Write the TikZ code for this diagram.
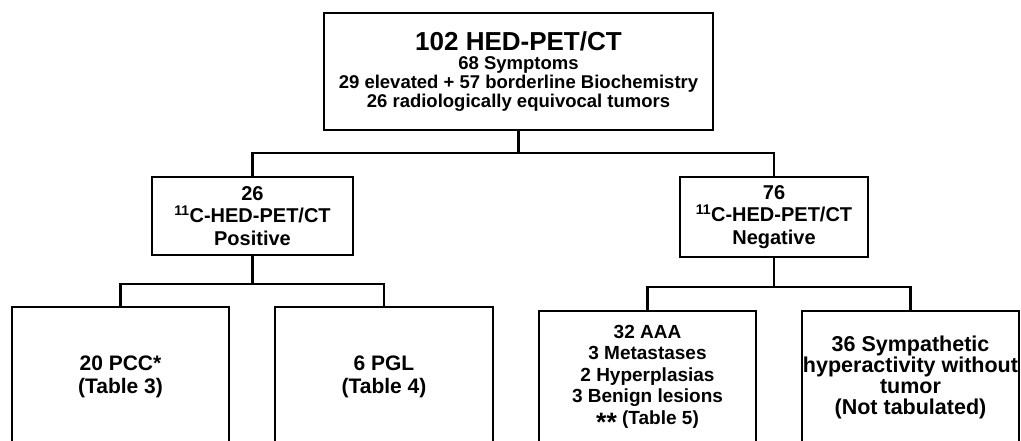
\documentclass[tikz,border=0pt]{standalone}
\usepackage{fontspec}
\setmainfont{Liberation Sans}
\begin{document}
\begin{tikzpicture}[x=1pt,y=-1pt,
  box/.style={draw, line width=2.6pt, inner sep=0pt, align=center},
  conn/.style={line width=2.6pt, line join=miter}]
\useasboundingbox (0,0) rectangle (1021,441);
\clip (0,0) rectangle (1021,441);
% top box
\node[box, minimum width=389pt, minimum height=117pt,
      font=\bfseries\fontsize{18.5}{19}\selectfont] (top) at (518.5,71.5)
  {{\fontsize{26}{19}\selectfont 102 HED-PET/CT}\\68 Symptoms\\29 elevated + 57 borderline Biochemistry\\26 radiologically equivocal tumors};
% middle boxes
\node[box, minimum width=201pt, minimum height=78pt,
      font=\bfseries\fontsize{20}{22.5}\selectfont] (pos) at (252.5,216)
  {26\\\textsuperscript{11}C-HED-PET/CT\\Positive};
\node[box, minimum width=188pt, minimum height=80pt,
      font=\bfseries\fontsize{20}{22.5}\selectfont] (neg) at (774,217)
  {76\\\textsuperscript{11}C-HED-PET/CT\\Negative};
% bottom boxes
\node[box, minimum width=217pt, minimum height=140pt,
      font=\bfseries\fontsize{21}{23}\selectfont] (pcc) at (120.5,377)
  {20 PCC*\\(Table 3)};
\node[box, minimum width=218pt, minimum height=140pt,
      font=\bfseries\fontsize{21}{23}\selectfont] (pgl) at (384,377)
  {6 PGL\\(Table 4)};
\node[box, minimum width=217pt, minimum height=131pt,
      font=\bfseries\fontsize{19}{21.5}\selectfont] (aaa) at (647.5,376.5)
  {32 AAA\\3 Metastases\\2 Hyperplasias\\3 Benign lesions\\\raisebox{-0.4em}[0.2em][0pt]{\scalebox{1.4}{**}} (Table 5)};
\node[box, minimum width=217pt, minimum height=132pt,
      font=\bfseries\fontsize{21.5}{21}\selectfont] (sym) at (910.5,377)
  {36 Sympathetic\\hyperactivity without\\tumor\\(Not tabulated)};
% junctions
\coordinate (j1) at (518.5,153);
\coordinate (j2) at (252.5,284);
\coordinate (j3) at (774,287);
% connectors
\draw[conn] (top.south) -- (j1);
\draw[conn] (pos.north) |- (j1) -| (neg.north);
\draw[conn] (pos.south) -- (j2);
\draw[conn] (pcc.north) |- (j2) -| (pgl.north);
\draw[conn] (neg.south) -- (j3);
\draw[conn] (aaa.north) |- (j3) -| (sym.north);
\end{tikzpicture}
\end{document}
